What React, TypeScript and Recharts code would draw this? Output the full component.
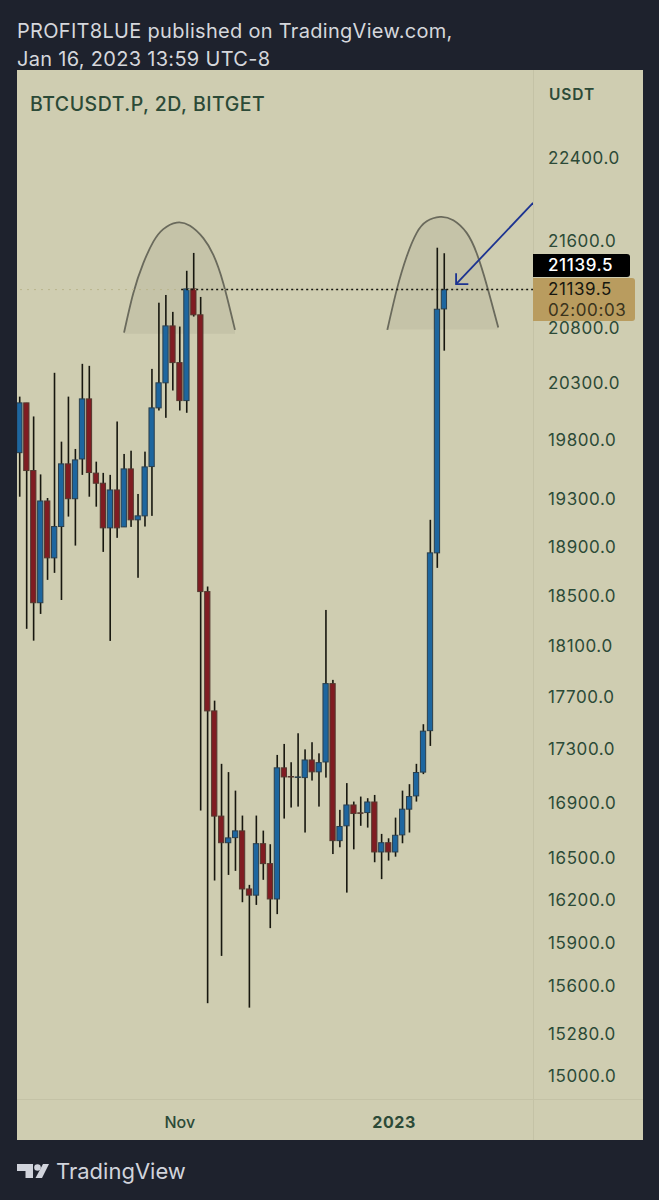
import { ComposedChart, Bar, Area, Line, XAxis, YAxis, ReferenceLine } from "recharts";

const FONT = "Inter, 'Noto Sans', sans-serif";
const GREEN_TEXT = "#2c4a37";
const PANEL = "#cfcdb1";
const DARK = "#1e222d";

const LAST_PRICE = 21139.5;

const opens = [
  19686, 20119, 19533, 18437, 19275, 18802, 19061, 19590, 19294, 19632, 20154, 19511, 19425, 19050, 19368, 19058,
  19547, 19117, 19150, 19567, 20075, 20296, 20807, 20476, 20139, 21146, 20908, 18527, 17586, 16796, 16602, 16639,
  16688, 16270, 16226, 16595, 16451, 16199, 17154, 17089, 17084, 17081, 17213, 17124, 17198, 17797, 16617, 16725,
  16878, 16820, 16822, 16900, 16535, 16602, 16535, 16659, 16847, 16945, 17122, 17435, 18843, 20962,
];
const highs = [
  20174, 20119, 20000, 19500, 19300, 20385, 19781, 20174, 19718, 20465, 20447, 19609, 19513, 19496, 19956, 19675,
  19703, 19334, 19695, 20420, 21019, 21090, 20935, 20801, 21314, 21481, 21072, 18568, 17665, 17184, 17122, 16984,
  16800, 16299, 16800, 16690, 16591, 17251, 17334, 17196, 17415, 17293, 17347, 17263, 18379, 17826, 16842, 17040,
  16903, 16940, 16928, 16952, 16666, 16634, 16785, 16984, 17032, 17184, 17484, 19117, 21530, 21478,
];
const lows = [
  19311, 18228, 18134, 18347, 18622, 18679, 18459, 19144, 18903, 19496, 19311, 19227, 18851, 18132, 18967, 19058,
  19058, 18639, 19061, 19150, 20052, 19988, 20228, 20052, 20032, 20892, 16837, 15478, 16330, 15801, 16370, 16399,
  16176, 15448, 16157, 16335, 15994, 16092, 16778, 16859, 16866, 16676, 17059, 16866, 17081, 16520, 16569, 16244,
  16554, 16725, 16712, 16461, 16340, 16473, 16501, 16598, 16676, 16903, 17107, 17319, 18720, 20583,
];
const closes = [
  20119, 19533, 18437, 19275, 18802, 19061, 19590, 19294, 19624, 20154, 19516, 19425, 19050, 19368, 19050, 19547,
  19117, 19150, 19564, 20075, 20296, 20807, 20476, 20139, 21146, 20908, 18527, 17586, 16796, 16602, 16637, 16688,
  16270, 16226, 16595, 16451, 16199, 17154, 17086, 17086, 17086, 17213, 17124, 17193, 17797, 16617, 16720, 16878,
  16815, 16818, 16900, 16535, 16602, 16535, 16656, 16847, 16940, 17119, 17431, 18843, 20959, LAST_PRICE,
];

const candles = opens.map((open, i) => ({
  i,
  open,
  close: closes[i],
  wick: [lows[i], highs[i]],
  body: [Math.min(open, closes[i]), Math.max(open, closes[i])],
}));

const priceTicks = [
  22400, 21600, 20800, 20300, 19800, 19300, 18900, 18500, 18100, 17700, 17300, 16900, 16500, 16200, 15900, 15600,
  15280, 15000,
];
const timeTicks = [23, 53.8];
const timeLabels = ["Nov", "2023"];

// the two hand drawn arches
const leftArch = [
  { i: 14.99, price: 20746 },
  { i: 16.32, price: 21106 },
  { i: 17.76, price: 21385 },
  { i: 19.2, price: 21587 },
  { i: 20.63, price: 21706 },
  { i: 22.56, price: 21768 },
  { i: 24.47, price: 21737 },
  { i: 26.38, price: 21620 },
  { i: 27.82, price: 21462 },
  { i: 29.25, price: 21199 },
  { i: 30.93, price: 20771 },
];
const rightArch = [
  { i: 52.82, price: 20771 },
  { i: 54.17, price: 21137 },
  { i: 55.6, price: 21447 },
  { i: 57.04, price: 21670 },
  { i: 58.48, price: 21780 },
  { i: 60.39, price: 21822 },
  { i: 62.3, price: 21790 },
  { i: 64.22, price: 21670 },
  { i: 65.66, price: 21478 },
  { i: 67.1, price: 21183 },
  { i: 68.76, price: 20792 },
];
const arrowShaft = [
  { i: 73.76, price: 21956 },
  { i: 62.7, price: 21190 },
];
const arrowHead = [
  { i: 62.7, price: 21292 },
  { i: 62.7, price: 21190 },
  { i: 64.46, price: 21190 },
];

const X_DOMAIN = [-0.39, 73.75];

function WickShape(props: any) {
  const { x, y, width, height } = props;
  return <rect x={x + width / 2 - 0.8} y={y} width={1.6} height={height} fill="#17170f" />;
}

function BodyShape(props: any) {
  const { x, y, width, height, payload } = props;
  const flat = Math.abs(payload.open - payload.close) < 8;
  const up = payload.close >= payload.open;
  return (
    <rect
      x={x + 0.5}
      y={y}
      width={width - 1}
      height={Math.max(height, 0.5)}
      fill={flat ? "#22261f" : up ? "#1d669f" : "#801c22"}
      stroke={up ? "#2b3f4c" : "#53382f"}
      strokeWidth={1}
    />
  );
}

function PriceTick(props: any) {
  const { y, payload } = props;
  return (
    <text x={548} y={y + 7} fill={GREEN_TEXT} fontSize={17} letterSpacing={0.6} fontFamily={FONT}>
      {payload.value.toFixed(1)}
    </text>
  );
}

function TimeTick(props: any) {
  const { x, y, payload } = props;
  const label = timeLabels[timeTicks.indexOf(payload.value)];
  return (
    <text
      x={x}
      y={y + 21}
      textAnchor="middle"
      fill={GREEN_TEXT}
      fontSize={16}
      fontWeight={label === "2023" ? 700 : 500}
      letterSpacing={label === "2023" ? 0.6 : 0}
      fontFamily={FONT}
    >
      {label}
    </text>
  );
}

function Logo() {
  return (
    <svg width={34} height={16} style={{ position: "absolute", left: 16, top: 1163 }}>
      <path d="M1 1H17V15H9.5V8H1Z" fill="#d1d4dc" />
      <circle cx={21.5} cy={4.5} r={3.3} fill="#d1d4dc" />
      <path d="M27 1H33L26 15H19.5Z" fill="#d1d4dc" />
    </svg>
  );
}

export default function App() {
  return (
    <div style={{ position: "absolute", left: 0, top: 0, width: 659, height: 1200, background: DARK, overflow: "hidden", fontFamily: FONT }}>
      <div style={{ position: "absolute", left: 17, top: 17, color: "#d5d7dc", fontSize: 20, lineHeight: "28px", letterSpacing: 0.3, whiteSpace: "nowrap" }}>
        PROFIT8LUE published on TradingView.com,
        <br />
        Jan 16, 2023 13:59 UTC-8
      </div>
      <div style={{ position: "absolute", left: 17, top: 70, width: 626, height: 1070, background: PANEL }} />
      <div style={{ position: "absolute", left: 533, top: 70, width: 1, height: 1070, background: "#c4c2a6" }} />
      <div style={{ position: "absolute", left: 17, top: 1099, width: 626, height: 1, background: "#c4c2a6" }} />
      <div style={{ position: "absolute", left: 30, top: 92, color: GREEN_TEXT, fontSize: 19.5, fontWeight: 500, letterSpacing: 0.5, whiteSpace: "nowrap" }}>
        BTCUSDT.P, 2D, BITGET
      </div>
      <div style={{ position: "absolute", left: 549, top: 85, color: GREEN_TEXT, fontSize: 15.5, fontWeight: 600, letterSpacing: 0.9 }}>USDT</div>

      <div style={{ position: "absolute", left: 0, top: 0 }}>
        <ComposedChart
          width={659}
          height={1200}
          data={candles}
          margin={{ top: 70, right: 0, bottom: 60, left: 17 }}
          barSize={7}
        >
          <XAxis
            type="number"
            dataKey="i"
            domain={X_DOMAIN}
            allowDataOverflow
            ticks={timeTicks}
            interval={0}
            height={41}
            axisLine={false}
            tickLine={false}
            tick={<TimeTick />}
          />
          <XAxis xAxisId="bodies" type="number" dataKey="i" domain={X_DOMAIN} allowDataOverflow hide />
          <YAxis
            type="number"
            orientation="right"
            scale="log"
            domain={[14843.5, 23268]}
            allowDataOverflow
            ticks={priceTicks}
            interval={0}
            width={126}
            axisLine={false}
            tickLine={false}
            tick={<PriceTick />}
          />
          <ReferenceLine y={LAST_PRICE} stroke="#b9b48d" strokeDasharray="2 5" strokeWidth={1} />
          <Area
            data={leftArch}
            dataKey="price"
            type="natural"
            baseValue={20735}
            stroke="#6a6a5c"
            strokeWidth={1.8}
            fill="#a8a690"
            fillOpacity={0.25}
            dot={false}
            activeDot={false}
            isAnimationActive={false}
          />
          <Area
            data={rightArch}
            dataKey="price"
            type="natural"
            baseValue={20775}
            stroke="#6a6a5c"
            strokeWidth={1.8}
            fill="#a8a690"
            fillOpacity={0.25}
            dot={false}
            activeDot={false}
            isAnimationActive={false}
          />
          <Bar dataKey="wick" shape={<WickShape />} isAnimationActive={false} />
          <Bar xAxisId="bodies" dataKey="body" shape={<BodyShape />} isAnimationActive={false} />
          <ReferenceLine
            segment={[
              { x: 23.2, y: LAST_PRICE },
              { x: 73.75, y: LAST_PRICE },
            ]}
            stroke="#15150f"
            strokeDasharray="2 3"
            strokeWidth={1.5}
          />
          <Line data={arrowShaft} dataKey="price" stroke="#1c3391" strokeWidth={1.8} dot={false} activeDot={false} isAnimationActive={false} />
          <Line data={arrowHead} dataKey="price" stroke="#1c3391" strokeWidth={1.8} dot={false} activeDot={false} isAnimationActive={false} />
        </ComposedChart>
      </div>

      <div style={{ position: "absolute", left: 533, top: 254, width: 97, height: 23, background: "#000", borderRadius: "0 3px 3px 0", color: "#fff", fontSize: 17, fontWeight: 500, lineHeight: "23px", textAlign: "left", paddingLeft: 15, boxSizing: "border-box", letterSpacing: 0.6 }}>
        21139.5
      </div>
      <div style={{ position: "absolute", left: 533, top: 278, width: 102, height: 43, background: "#b99c5f", borderRadius: "0 3px 3px 0", color: "#17170f", fontSize: 17, lineHeight: "21px", paddingLeft: 15, paddingTop: 1, boxSizing: "border-box", letterSpacing: 0.6 }}>
        21139.5
        <br />
        <span style={{ color: "#3a331c" }}>02:00:03</span>
      </div>

      <Logo />
      <div style={{ position: "absolute", left: 56, top: 1158, color: "#d1d4dc", fontSize: 22, lineHeight: "26px", fontWeight: 400, whiteSpace: "nowrap" }}>TradingView</div>
    </div>
  );
}
